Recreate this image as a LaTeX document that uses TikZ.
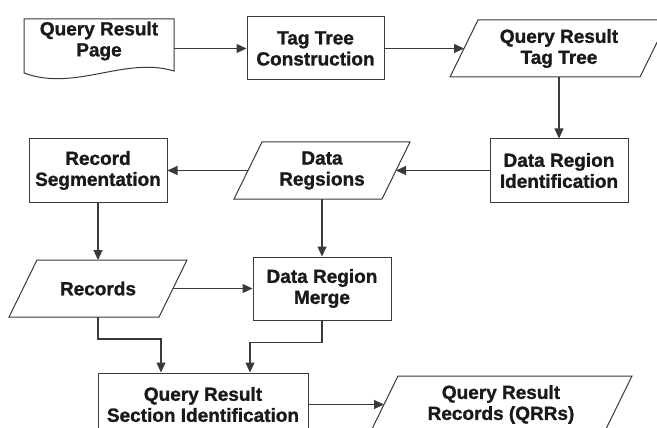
\documentclass[tikz,border=0pt]{standalone}
\usepackage{fontspec}
\setmainfont{Liberation Sans}[BoldFeatures={FakeBold=1.2}]
\usetikzlibrary{arrows.meta}
\definecolor{ln}{HTML}{3A3A3A}
\definecolor{tx}{HTML}{1A1A1A}
\tikzset{
  lbl/.style={font=\fontsize{19}{21}\selectfont\bfseries, text=tx, align=center, inner sep=0pt},
  box/.style={lbl, draw=ln, line width=1pt, minimum width=#1, minimum height=63pt},
  para/.style={lbl, minimum width=#1, minimum height=57pt, outer sep=0pt},
  outl/.style={draw=ln, line width=1pt, line join=miter},
  arr/.style={draw=ln, line width=1.1pt, -{Triangle[length=10pt,width=9pt]}}
}
\newcommand\paraoutline[1]{\draw[outl] ([xshift=-14pt]#1.south west) -- ([xshift=-14pt]#1.south east) -- ([xshift=14pt]#1.north east) -- ([xshift=14pt]#1.north west) -- cycle;}
\begin{document}
\begin{tikzpicture}[x=1pt,y=-1pt]
\useasboundingbox (0,0) rectangle (657,428);
\clip (0,0) rectangle (657,428);
\fill[white] (0,0) rectangle (657,428);

% nodes
\node[lbl, minimum width=150pt, outer sep=0pt] (doc) at (99,41) {Query Result\\Page};
\node[box=137pt] (ttc) at (315.5,48.5) {Tag Tree\\Construction};
\node[para=190pt] (qrtt) at (559,48.5) {Query Result\\Tag Tree};
\node[box=138pt] (dri) at (559,170.5) {Data Region\\Identification};
\node[para=148pt] (dr) at (322,170.5) {Data\\Regsions};
\node[box=138pt] (rs) at (98,170.5) {Record\\Segmentation};
\node[para=150pt] (rec) at (98,288.5) {Records};
\node[box=138pt] (drm) at (322,288.5) {Data Region\\Merge};
\node[box=210pt] (qrsi) at (203,404.5) {Query Result\\Section Identification};
\node[para=234pt] (qrr) at (501,404.5) {Query Result\\Records (QRRs)};

% outlines
\draw[outl] (24,19) -- (174,19) -- (174,71) .. controls (125,56) and (75,92) .. (24,73) -- cycle;
\paraoutline{qrtt}
\paraoutline{dr}
\paraoutline{rec}
\paraoutline{qrr}

% connectors
\draw[arr] (doc.east |- ttc.west) -- (ttc.west);
\draw[arr] (ttc.east) -- (qrtt.west);
\draw[arr] (qrtt.south) -- (dri.north);
\draw[arr] (dri.west) -- (dr.east);
\draw[arr] (dr.west) -- (rs.east);
\draw[arr] (rs.south) -- (rec.north);
\draw[arr] (dr.south) -- (drm.north);
\draw[arr] (rec.east) -- (drm.west);
\draw[arr] (rec.south) -- ++(0,22) -| ([xshift=-42pt]qrsi.north);
\draw[arr] (drm.south) -- ++(0,22) -| ([xshift=47pt]qrsi.north);
\draw[arr] (qrsi.east) -- (qrr.west);
\end{tikzpicture}
\end{document}
